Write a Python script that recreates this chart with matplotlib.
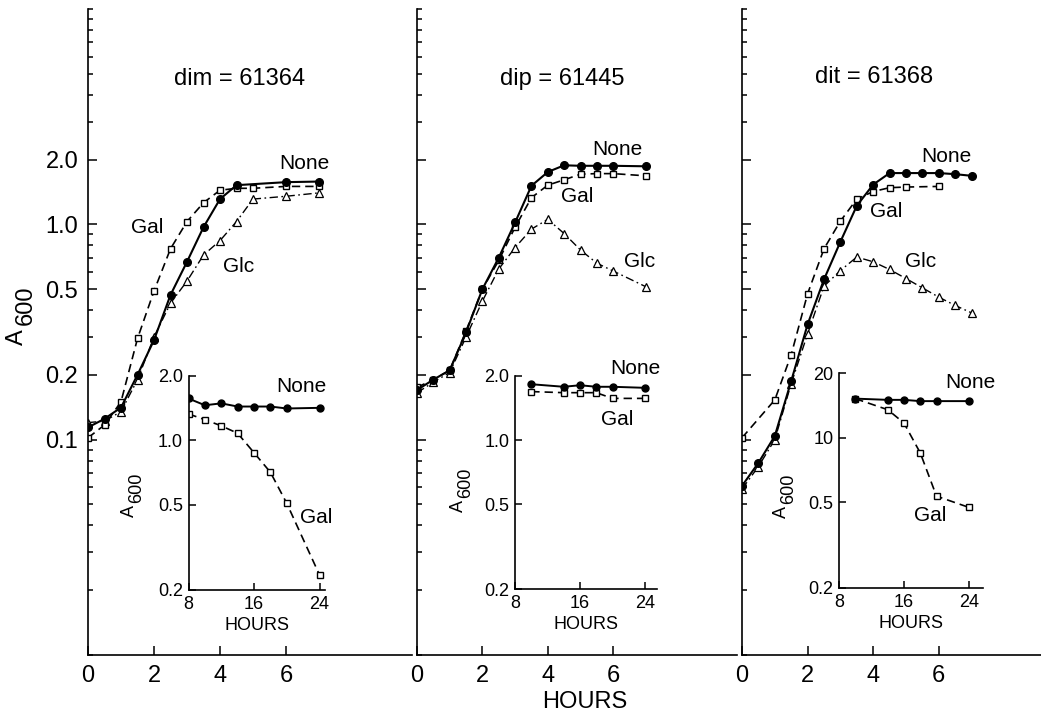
import matplotlib
matplotlib.use("Agg")
import matplotlib.pyplot as plt
from matplotlib.ticker import FixedLocator, NullFormatter, NullLocator

W, H = 1041, 724

# --- main panels: A600 vs hours after shift ---
strains = ["dim = 61364", "dip = 61445", "dit = 61368"]

# dim
t_none_1 = [0, 0.5, 1, 1.5, 2, 2.5, 3, 3.5, 4, 4.5, 6, 7]
none_1 = [0.114, 0.125, 0.141, 0.20, 0.29, 0.47, 0.67, 0.97, 1.31, 1.52, 1.57, 1.58]
t_gal_1 = [0, 0.5, 1, 1.5, 2, 2.5, 3, 3.5, 4, 4.5, 5, 6, 7]
gal_1 = [0.102, 0.117, 0.15, 0.295, 0.49, 0.77, 1.03, 1.26, 1.44, 1.47, 1.47, 1.50, 1.50]
t_glc_1 = [0, 0.5, 1, 1.5, 2, 2.5, 3, 3.5, 4, 4.5, 5, 6, 7]
glc_1 = [0.12, 0.122, 0.135, 0.19, 0.30, 0.43, 0.545, 0.72, 0.84, 1.03, 1.31, 1.35, 1.40]

# dip
t_2 = [0, 0.5, 1, 1.5, 2, 2.5, 3, 3.5, 4, 4.5, 5, 5.5, 6, 7]
none_2 = [0.17, 0.19, 0.21, 0.315, 0.50, 0.70, 1.02, 1.51, 1.75, 1.88, 1.87, 1.87, 1.87, 1.86]
gal_2 = [0.175, 0.19, 0.21, 0.32, 0.50, 0.68, 0.97, 1.33, 1.52, 1.61, 1.71, 1.72, 1.72, 1.68]
glc_2 = [0.165, 0.185, 0.205, 0.30, 0.44, 0.62, 0.78, 0.95, 1.055, 0.906, 0.76, 0.66, 0.607, 0.513]

# dit
t_3 = [0, 0.5, 1, 1.5, 2, 2.5, 3, 3.5, 4, 4.5, 5, 5.5, 6, 6.5, 7]
none_3 = [0.061, 0.078, 0.104, 0.187, 0.343, 0.555, 0.83, 1.22, 1.53, 1.73, 1.73, 1.73, 1.73, 1.71, 1.68]
t_gal_3 = [0, 1, 1.5, 2, 2.5, 3, 3.5, 4, 4.5, 5, 6]
gal_3 = [0.102, 0.153, 0.248, 0.476, 0.77, 1.035, 1.31, 1.42, 1.48, 1.49, 1.50]
glc_3 = [0.059, 0.075, 0.10, 0.182, 0.31, 0.516, 0.61, 0.705, 0.67, 0.617, 0.56, 0.507, 0.459, 0.42, 0.388]

# --- insets: 8-24 h ---
ti_1 = [8, 10, 12, 14, 16, 18, 20, 24]
inone_1 = [1.57, 1.46, 1.49, 1.44, 1.44, 1.44, 1.41, 1.42]
igal_1 = [1.33, 1.25, 1.17, 1.08, 0.876, 0.71, 0.508, 0.235]
ti_2 = [10, 14, 16, 18, 20, 24]
inone_2 = [1.83, 1.78, 1.81, 1.78, 1.78, 1.76]
igal_2 = [1.69, 1.67, 1.67, 1.67, 1.57, 1.57]
ti_3 = [10, 14, 16, 18, 20, 24]
inone_3 = [1.52, 1.50, 1.50, 1.48, 1.48, 1.48]
igal_3 = [1.52, 1.35, 1.17, 0.85, 0.535, 0.474]

main_yticks = [0.1, 0.2, 0.5, 1, 2]
main_ylabels = ["0.1", "0.2", "0.5", "1.0", "2.0"]
inset_yticks = [0.2, 0.5, 1, 2]

plt.rcParams["font.family"] = ["Liberation Sans Narrow", "Liberation Sans", "DejaVu Sans"]

NONE = dict(color="black", lw=1.5, marker="o", ms=5.5, mfc="black", mec="black")
GAL = dict(color="black", lw=1.2, ls=(0, (5, 3)), marker="s", ms=5, mfc="white", mec="black", mew=1.0)
GLC = dict(color="black", lw=1.0, ls=(0, (6, 2.5, 1.2, 2.5)), marker="^", ms=5.5, mfc="white",
           mec="black", mew=0.9)

fig = plt.figure(figsize=(W / 100, H / 100), dpi=100)


def px_axes(left, top, right, bottom):
    return fig.add_axes([left / W, 1 - bottom / H, (right - left) / W, (bottom - top) / H])


def a600(ax, x, y, size, dx, dy):
    # rotated "A" with the 600 set below/after it
    ax.annotate("A", (x, y), xycoords="axes fraction", rotation=90, ha="center", va="center",
                fontsize=size, annotation_clip=False)
    ax.annotate("600", (x, y), xycoords="axes fraction", xytext=(dx, dy), textcoords="offset points",
                rotation=90, ha="center", va="center", fontsize=size, annotation_clip=False)


def style_main(ax, xmax, labels):
    ax.set_yscale("log")
    ax.set_ylim(0.01, 10)
    ax.set_xlim(0, xmax)
    ax.patch.set_alpha(0)
    for s in ("top", "right"):
        ax.spines[s].set_visible(False)
    for s in ("left", "bottom"):
        ax.spines[s].set_linewidth(1.2)
    minors = [k * 10.0 ** e for e in (-2, -1, 0) for k in range(1, 10)] + [10]
    minors = [m for m in minors if all(abs(m - v) > 1e-9 for v in main_yticks)]
    ax.yaxis.set_major_locator(FixedLocator(main_yticks))
    ax.yaxis.set_minor_locator(FixedLocator(minors))
    ax.yaxis.set_minor_formatter(NullFormatter())
    ax.set_yticklabels(main_ylabels if labels else [])
    ax.set_xticks([0, 2, 4, 6])
    ax.set_xticklabels(["0", "2", "4", "6"])
    ax.tick_params(which="both", direction="in", width=1.1, labelsize=17, pad=7)
    ax.tick_params(which="major", length=6.5)
    ax.tick_params(which="minor", length=3.5)


def style_inset(ax, xmax, ylabels):
    ax.set_yscale("log")
    ax.set_ylim(0.2, 2.0)
    ax.set_xlim(8, xmax)
    for s in ("top", "right"):
        ax.spines[s].set_visible(False)
    for s in ("left", "bottom"):
        ax.spines[s].set_linewidth(1.2)
    ax.yaxis.set_major_locator(FixedLocator(inset_yticks))
    ax.yaxis.set_minor_locator(NullLocator())
    ax.set_yticklabels(ylabels)
    ax.set_xticks([8, 16, 24])
    ax.set_xticklabels(["8", "16", "24"])
    ax.tick_params(direction="in", length=5, width=1.1, labelsize=13, pad=4)
    ax.set_xlabel("HOURS", fontsize=13, labelpad=3)


# main axes
ax1 = px_axes(88, 9, 412, 655)
ax2 = px_axes(417, 9, 737, 655)
ax3 = px_axes(742, 9, 1072, 655)
style_main(ax1, 324 / 33, True)
style_main(ax2, 320 / 32.7, False)
style_main(ax3, 330 / 32.8, False)

ax1.plot(t_glc_1, glc_1, **GLC)
ax1.plot(t_gal_1, gal_1, **GAL)
ax1.plot(t_none_1, none_1, **NONE)
ax2.plot(t_2, glc_2, **GLC)
ax2.plot(t_2, gal_2, **GAL)
ax2.plot(t_2, none_2, **NONE)
ax3.plot(t_3, glc_3, **GLC)
ax3.plot(t_gal_3, gal_3, **GAL)
ax3.plot(t_3, none_3, **NONE)

for ax, name, tx, ty in [(ax1, strains[0], 4.6, 4.72), (ax2, strains[1], 4.45, 4.72),
                         (ax3, strains[2], 4.02, 4.83)]:
    ax.text(tx, ty, name, ha="center", va="center", fontsize=17)

lab = dict(ha="center", va="center", fontsize=15)
ax1.text(6.55, 1.92, "None", **lab)
ax1.text(1.79, 0.97, "Gal", **lab)
ax1.text(4.55, 0.64, "Glc", **lab)
ax2.text(6.13, 2.23, "None", **lab)
ax2.text(4.91, 1.35, "Gal", **lab)
ax2.text(6.82, 0.67, "Glc", **lab)
ax3.text(6.24, 2.07, "None", **lab)
ax3.text(4.41, 1.15, "Gal", **lab)
ax3.text(5.43, 0.67, "Glc", **lab)

a600(ax1, -0.219, 0.492, 17, 6.5, 22.7)

# insets
in1 = px_axes(188.5, 376, 325, 590)
in2 = px_axes(515, 376, 657, 589)
in3 = px_axes(839, 373, 983, 588)
style_inset(in1, 8 + 136.5 / 8.19, ["0.2", "0.5", "1.0", "2.0"])
style_inset(in2, 8 + 142 / 8.125, ["0.2", "0.5", "1.0", "2.0"])
style_inset(in3, 8 + 144 / 8.125, ["0.2", "0.5", "10", "20"])

small_none = dict(NONE, ms=5, lw=1.4)
small_gal = dict(GAL, ms=4.5)
in1.plot(ti_1, igal_1, **small_gal)
in1.plot(ti_1, inone_1, **small_none)
in2.plot(ti_2, igal_2, **small_gal)
in2.plot(ti_2, inone_2, **small_none)
in3.plot(ti_3, igal_3, **small_gal)
in3.plot(ti_3, inone_3, **small_none)

lab_in = dict(ha="center", va="center", fontsize=15)
in1.text(21.8, 1.78, "None", **lab_in)
in1.text(23.65, 0.434, "Gal", **lab_in)
in2.text(22.8, 2.18, "None", **lab_in)
in2.text(20.6, 1.245, "Gal", **lab_in)
in3.text(24.2, 1.81, "None", **lab_in)
in3.text(19.2, 0.437, "Gal", **lab_in)

a600(in1, -0.43, 0.369, 13, 5, 16.5)
a600(in2, -0.40, 0.39, 13, 5, 16.5)
a600(in3, -0.40, 0.353, 13, 5, 16.5)

fig.text(585 / W, 1 - 702 / H, "HOURS", ha="center", va="center", fontsize=17)

fig.savefig("out.png", dpi=100)
